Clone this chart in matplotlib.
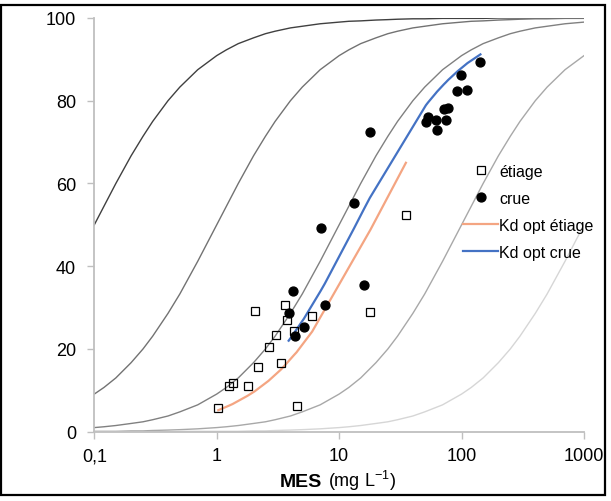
import matplotlib
matplotlib.use("Agg")
import matplotlib.pyplot as plt
from matplotlib.patches import Rectangle

plt.rcParams['font.family'] = ['Liberation Sans', 'DejaVu Sans']
plt.rcParams['mathtext.fontset'] = 'custom'
plt.rcParams['mathtext.rm'] = 'Liberation Sans'
plt.rcParams['mathtext.bf'] = 'Liberation Sans:bold'

# courbes de référence (% particulaire)
mes_grid = [0.1, 0.12, 0.15, 0.2, 0.25, 0.3, 0.4, 0.5, 0.7,
            1, 1.2, 1.5, 2, 2.5, 3, 4, 5, 7,
            10, 12, 15, 20, 25, 30, 40, 50, 70,
            100, 120, 150, 200, 250, 300, 400, 500, 700,
            1000]
curve_kd10 = [50.0, 54.5, 60.0, 66.7, 71.4, 75.0, 80.0, 83.3, 87.5,
              90.9, 92.3, 93.8, 95.2, 96.2, 96.8, 97.6, 98.0, 98.6,
              99.0, 99.2, 99.3, 99.5, 99.6, 99.7, 99.8, 99.8, 99.9,
              99.9, 99.9, 99.9, 100.0, 100.0, 100.0, 100.0, 100.0, 100.0,
              100.0]
curve_kd1 = [9.1, 10.7, 13.0, 16.7, 20.0, 23.1, 28.6, 33.3, 41.2,
             50.0, 54.5, 60.0, 66.7, 71.4, 75.0, 80.0, 83.3, 87.5,
             90.9, 92.3, 93.8, 95.2, 96.2, 96.8, 97.6, 98.0, 98.6,
             99.0, 99.2, 99.3, 99.5, 99.6, 99.7, 99.8, 99.8, 99.9,
             99.9]
curve_kd01 = [1.0, 1.2, 1.5, 2.0, 2.4, 2.9, 3.8, 4.8, 6.5,
              9.1, 10.7, 13.0, 16.7, 20.0, 23.1, 28.6, 33.3, 41.2,
              50.0, 54.5, 60.0, 66.7, 71.4, 75.0, 80.0, 83.3, 87.5,
              90.9, 92.3, 93.8, 95.2, 96.2, 96.8, 97.6, 98.0, 98.6,
              99.0]
curve_kd001 = [0.1, 0.1, 0.1, 0.2, 0.2, 0.3, 0.4, 0.5, 0.7,
               1.0, 1.2, 1.5, 2.0, 2.4, 2.9, 3.8, 4.8, 6.5,
               9.1, 10.7, 13.0, 16.7, 20.0, 23.1, 28.6, 33.3, 41.2,
               50.0, 54.5, 60.0, 66.7, 71.4, 75.0, 80.0, 83.3, 87.5,
               90.9]
curve_kd0001 = [0.0, 0.0, 0.0, 0.0, 0.0, 0.0, 0.0, 0.1, 0.1,
                0.1, 0.1, 0.1, 0.2, 0.2, 0.3, 0.4, 0.5, 0.7,
                1.0, 1.2, 1.5, 2.0, 2.4, 2.9, 3.8, 4.8, 6.5,
                9.1, 10.7, 13.0, 16.7, 20.0, 23.1, 28.6, 33.3, 41.2,
                50.0]
ref_curves = [curve_kd10, curve_kd1, curve_kd01, curve_kd001, curve_kd0001]
ref_colors = ['#404040', '#727272', '#808080', '#a8a8a8', '#d6d6d6']

# étiage
etiage_mes = [1.03, 1.26, 1.35, 1.79, 2.05, 2.18, 2.65, 3.04, 3.34, 3.62, 3.72, 4.27,
              4.49, 6.02, 18.0, 35.1]
etiage_pct = [5.7, 11.0, 11.8, 11.1, 29.1, 15.6, 20.5, 23.4, 16.7, 30.7, 26.9, 24.3,
              6.1, 28.0, 29.0, 52.5]
etiage_fit = [5.2, 6.3, 6.7, 8.7, 9.8, 10.4, 12.3, 13.9, 15.0, 16.1, 16.5, 18.5,
              19.2, 24.2, 48.8, 65.0]

# crue
crue_mes = [3.87, 4.17, 4.34, 5.15, 7.05, 7.64, 13.2, 16.0, 17.8, 51.1, 53.3, 61.5,
            63.1, 71.9, 74.2, 77.6, 92.6, 99.8, 111.8, 142.6]
crue_pct = [28.7, 34.1, 23.1, 25.2, 49.2, 30.6, 55.4, 35.5, 72.4, 74.8, 76.0, 75.4,
            73.0, 78.0, 75.4, 78.2, 82.4, 86.2, 82.6, 89.3]
crue_fit = [22.0, 23.3, 24.1, 27.3, 34.0, 35.8, 49.1, 53.9, 56.5, 78.9, 79.6, 81.8,
            82.2, 84.0, 84.4, 85.0, 87.1, 87.9, 89.1, 91.2]

x_ticks = [0.1, 1, 10, 100, 1000]
x_ticklabels = ['0,1', '1', '10', '100', '1000']
y_ticks = [0, 20, 40, 60, 80, 100]

W, H = 611, 502
fig = plt.figure(figsize=(W / 100, H / 100), dpi=100)
ax = fig.add_axes([0.1543, 0.138, 0.8015, 0.8242])

for ys, c in zip(ref_curves, ref_colors):
    ax.plot(mes_grid, ys, color=c, lw=1.0, zorder=2)

ax.plot(etiage_mes, etiage_fit, color='#F4A582', lw=1.6, zorder=3, label='Kd opt étiage')
ax.plot(crue_mes, crue_fit, color='#4472C4', lw=1.6, zorder=3, label='Kd opt crue')
ax.plot(etiage_mes, etiage_pct, ls='none', marker='s', ms=6.2, mfc='none', mec='black',
        mew=0.9, zorder=4, label='étiage')
ax.plot(crue_mes, crue_pct, ls='none', marker='o', ms=6.4, mfc='black', mec='black',
        zorder=4, label='crue')

ax.set_xscale('log')
ax.set_xlim(0.1, 1000)
ax.set_ylim(0, 100)
ax.set_xticks(x_ticks)
ax.set_xticklabels(x_ticklabels)
ax.minorticks_off()
ax.set_yticks(y_ticks)

for s in ['top', 'right']:
    ax.spines[s].set_visible(False)
for s in ['left', 'bottom']:
    ax.spines[s].set_color('#bfbfbf')
    ax.spines[s].set_linewidth(1.3)
ax.tick_params(axis='both', colors='#bfbfbf', labelcolor='black', labelsize=13,
               length=5, width=1.0)
ax.tick_params(axis='y', pad=8)
ax.tick_params(axis='x', pad=6)

# titre de l'axe x : MES en gras + unité
fig.text(322 / W, 1 - 487 / H, 'MES', fontsize=14, fontweight='bold',
         ha='right', va='baseline')
fig.text(328 / W, 1 - 487 / H, '(mg L$^{-1}$)', fontsize=13,
         ha='left', va='baseline')

h, l = ax.get_legend_handles_labels()
order = [2, 3, 0, 1]
ax.legend([h[i] for i in order], [l[i] for i in order], frameon=False, fontsize=11.5,
          loc='upper left', bbox_to_anchor=(463 / W, 1 - 165 / H),
          bbox_transform=fig.transFigure, borderpad=0, borderaxespad=0,
          handlelength=2.2, handletextpad=0.08, labelspacing=0.75)

fig.patches.append(Rectangle((0.0016, 0.011), 0.9886, 0.978, transform=fig.transFigure,
                             fill=False, edgecolor='black', lw=1.6))

fig.savefig('out.png', dpi=100)
